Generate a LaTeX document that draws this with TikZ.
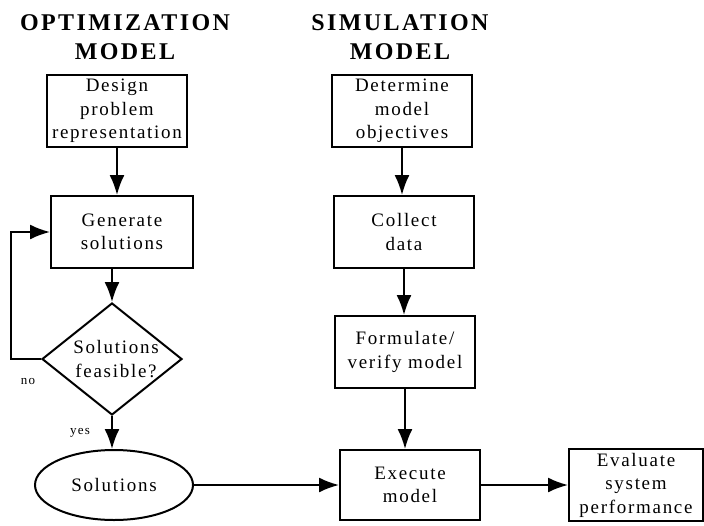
\documentclass[tikz,border=0pt]{standalone}
\usepackage{fontspec}
\setmainfont{Liberation Serif}
\newfontfamily\headfont[LetterSpace=10]{Liberation Serif}
\newfontfamily\bodyfont[LetterSpace=9]{Liberation Serif}
\usetikzlibrary{shapes.geometric,arrows.meta}

\tikzset{
  lw/.style={line width=2pt},
  heading/.style={align=center,font=\headfont\bfseries\fontsize{24}{29}\selectfont,inner sep=0pt},
  stepbox/.style={draw,lw,rectangle,inner sep=0pt,align=center,
    font=\bodyfont\fontsize{19}{23.5}\selectfont},
  decision/.style={draw,lw,diamond,inner sep=0pt},
  terminal/.style={draw,lw,ellipse,inner sep=0pt,font=\bodyfont\fontsize{19}{23.5}\selectfont},
  body/.style={align=center,inner sep=0pt,font=\bodyfont\fontsize{19}{23.5}\selectfont},
  small/.style={inner sep=0pt,font=\bodyfont\fontsize{13}{15}\selectfont},
  flow/.style={lw,-{Latex[length=20pt,width=15pt]}}
}

\begin{document}
\begin{tikzpicture}[x=1pt,y=-1pt]
  \fill[white] (0,0) rectangle (704,525);
  \path[use as bounding box] (0,0) rectangle (704,525);

  % column headings
  \node[heading] (hopt) at (125,37) {OPTIMIZATION\\MODEL};
  \node[heading] (hsim) at (400,37) {SIMULATION\\MODEL};

  % optimization column
  \node[stepbox,minimum width=140pt,minimum height=72pt] (design) at (117,111)
    {Design\\problem\\representation};
  \node[stepbox,minimum width=142pt,minimum height=72pt] (gen) at (122,232)
    {Generate\\solutions};
  \node[decision,minimum width=140pt,minimum height=112pt] (feas) at (112,359) {};
  \node[body] (feastext) at (116,359) {Solutions\\feasible?};
  \node[terminal,minimum width=158pt,minimum height=70pt] (sol) at (114,485) {Solutions};
  \node[small] (no) at (28,381) {no};
  \node[small] (yes) at (80,433) {yes};

  % simulation column
  \node[stepbox,minimum width=140pt,minimum height=72pt] (det) at (402,111)
    {Determine\\model\\objectives};
  \node[stepbox,minimum width=140pt,minimum height=72pt] (coll) at (404,232)
    {Collect\\data};
  \node[stepbox,minimum width=140pt,minimum height=72pt] (form) at (405,352)
    {Formulate/\\verify model};
  \node[stepbox,minimum width=140pt,minimum height=70pt] (exec) at (410,485)
    {Execute\\model};
  \node[stepbox,minimum width=134pt,minimum height=72pt] (eval) at (636,485)
    {Evaluate\\system\\performance};

  % connectors
  \draw[flow] (design.south) -- (design.south |- gen.north);
  \draw[flow] (feas.north |- gen.south) -- (feas.north);
  \draw[flow] (feas.south) -- (feas.south |- sol.north);
  \draw[flow] (feas.west) -- ++(-30,0) |- (gen.west);
  \draw[flow] (sol.east) -- (exec.west);
  \draw[flow] (det.south) -- (det.south |- coll.north);
  \draw[flow] (coll.south) -- (coll.south |- form.north);
  \draw[flow] (form.south) -- (form.south |- exec.north);
  \draw[flow] (exec.east) -- (eval.west);
\end{tikzpicture}
\end{document}
